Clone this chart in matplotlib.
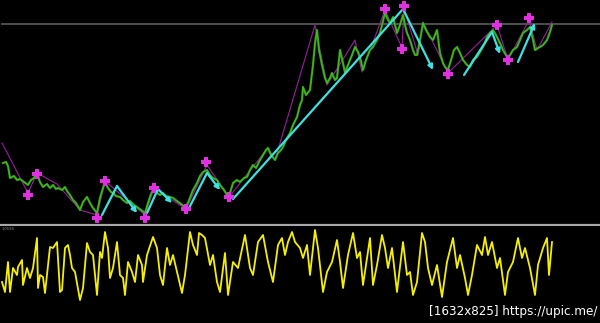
import matplotlib
matplotlib.use("Agg")
import matplotlib.pyplot as plt

# ---------------- data (bar index, level) ----------------
price_bar = [3, 6, 8, 10, 14, 17, 20, 24, 28, 31, 34, 37, 40, 43, 47, 50, 53, 56, 58, 62, 65, 67, 70, 73, 76, 80,
             83, 87, 90, 93, 97, 100, 103, 105, 108, 111, 113, 116, 120, 123, 127, 130, 134, 137, 141, 145, 148,
             151, 153, 156, 160, 163, 166, 170, 173, 177, 181, 185, 188, 191, 193, 197, 200, 203, 207, 210, 213,
             217, 220, 224, 227, 230, 233, 237, 240, 244, 247, 250, 253, 256, 260, 263, 266, 268, 271, 275, 278,
             281, 283, 286, 290, 293, 297, 300, 302, 303, 306, 310, 313, 315, 317, 319, 322, 325, 327, 330, 332,
             335, 337, 340, 343, 345, 348, 352, 355, 358, 360, 363, 366, 370, 373, 377, 380, 382, 385, 388, 390,
             393, 397, 400, 403, 405, 407, 410, 413, 415, 417, 420, 423, 426, 430, 433, 437, 440, 443, 445, 448,
             451, 454, 457, 460, 463, 467, 470, 473, 477, 480, 484, 487, 490, 493, 496, 500, 503, 507, 510, 513,
             517, 520, 523, 527, 530, 533, 535, 538, 540, 543, 547, 550, 552]
price_px = [163, 162, 166, 178, 176, 180, 179, 182, 185, 180, 178, 173, 182, 187, 184, 188, 185, 189, 188, 190, 187,
            191, 195, 200, 203, 210, 202, 197, 203, 208, 213, 198, 188, 182, 188, 192, 193, 196, 197, 200, 203, 201,
            205, 207, 210, 213, 203, 194, 190, 192, 195, 193, 196, 197, 198, 201, 204, 207, 203, 195, 190, 183, 176,
            172, 170, 175, 178, 180, 185, 190, 195, 193, 183, 180, 182, 178, 177, 170, 165, 168, 160, 155, 150, 148,
            155, 160, 153, 150, 147, 140, 133, 125, 117, 105, 100, 87, 95, 90, 65, 43, 30, 50, 65, 78, 83, 78, 73,
            80, 78, 50, 63, 73, 65, 55, 47, 52, 57, 70, 60, 50, 47, 40, 33, 25, 13, 20, 23, 17, 33, 25, 15, 25, 33,
            40, 50, 55, 55, 40, 23, 30, 37, 40, 30, 53, 63, 67, 70, 60, 50, 47, 53, 60, 65, 67, 60, 57, 52, 45, 37,
            33, 30, 35, 43, 50, 57, 55, 50, 47, 40, 33, 30, 27, 40, 50, 48, 47, 45, 40, 32, 25]
price = [225 - p for p in price_px]

zig_bar = [2, 28, 37, 57, 80, 97, 105, 145, 154, 186, 207, 229, 268, 275, 315, 327, 355, 362, 385, 402, 404, 418,
           423, 448, 497, 508, 529, 537, 552]
zig_px = [143, 193, 173, 184, 210, 215, 181, 215, 188, 209, 165, 197, 148, 160, 25, 85, 40, 72, 10, 48, 8, 55, 22,
          73, 25, 60, 20, 50, 22]
zigzag = [225 - p for p in zig_px]

mark_bar = [28, 37, 97, 105, 145, 154, 186, 206, 229, 385, 404, 402, 448, 497, 508, 529]
mark_px = [195, 174, 218, 181, 218, 188, 209, 162, 197, 9, 6, 49, 74, 25, 60, 18]
marks = [225 - p for p in mark_px]

# cyan arrow paths (bar, pixel level)
arrow_paths = [
    [(102, 215), (117, 186), (137, 213)],
    [(147, 213), (158, 189), (172, 203)],
    [(188, 210), (207, 173), (220, 190)],
    [(233, 199), (403, 9), (433, 70)],
    [(464, 75), (492, 32), (500, 54)],
    [(518, 62), (535, 23)],
]

resistance = 225 - 24

osc_bar = [2, 5, 8, 10, 13, 17, 18, 22, 23, 27, 30, 33, 37, 38, 40, 43, 45, 50, 53, 57, 60, 62, 65, 68, 70, 72,
           75, 80, 83, 87, 90, 93, 97, 100, 102, 105, 108, 110, 113, 117, 120, 123, 125, 128, 132, 135, 138, 142,
           143, 147, 153, 157, 160, 163, 167, 170, 173, 177, 182, 185, 190, 193, 197, 199, 202, 205, 210, 213, 217,
           220, 225, 228, 233, 238, 245, 250, 253, 258, 263, 268, 273, 278, 282, 285, 288, 292, 295, 300, 303, 307,
           310, 315, 318, 323, 327, 332, 337, 340, 343, 348, 353, 357, 360, 363, 367, 370, 373, 377, 382, 385, 388,
           392, 397, 399, 403, 407, 410, 413, 417, 422, 425, 428, 432, 437, 442, 447, 453, 457, 460, 465, 468, 472,
           477, 482, 485, 488, 492, 497, 500, 505, 508, 513, 518, 522, 525, 530, 535, 538, 543, 547, 549, 552]
osc_px = [282, 292, 262, 292, 268, 275, 267, 260, 285, 268, 278, 268, 238, 288, 275, 277, 293, 247, 248, 242, 292,
          290, 248, 245, 255, 268, 272, 300, 288, 243, 252, 255, 295, 252, 258, 232, 248, 278, 268, 242, 275, 278,
          295, 262, 272, 282, 255, 265, 282, 255, 237, 248, 275, 285, 248, 265, 255, 272, 293, 275, 232, 245, 255,
          233, 235, 238, 265, 255, 282, 292, 253, 295, 262, 268, 235, 268, 275, 242, 235, 262, 282, 245, 238, 255,
          242, 232, 242, 248, 258, 245, 275, 230, 248, 292, 272, 262, 240, 262, 288, 255, 233, 258, 252, 285, 258,
          238, 285, 265, 235, 248, 268, 248, 292, 275, 242, 275, 272, 295, 282, 233, 242, 268, 285, 265, 297, 262,
          238, 268, 255, 278, 295, 275, 245, 255, 237, 255, 242, 268, 258, 295, 272, 262, 238, 258, 248, 268, 295,
          265, 248, 238, 275, 242]
osc = [300 - p for p in osc_px]

level_label = "1.0594"
credit = "[1632x825] https://upic.me/"

# ---------------- figure ----------------
W, H = 600, 323
fig = plt.figure(figsize=(W / 100, H / 100), dpi=100, facecolor="black")

top_h = 226
ax = fig.add_axes([0, 1 - top_h / H, 1, top_h / H], facecolor="black")
ax.set_xlim(0, 600)
ax.set_ylim(225 - top_h, 225)
ax.axis("off")

ax.axhline(resistance, color="#5c5c5c", lw=1.2, xmin=0.004)
ax.axhline(0, color="#a8a8a8", lw=1.6)

ax.plot(zig_bar, zigzag, color="#9a1ea0", lw=0.8, zorder=2)
ax.plot(price_bar, price, color="#2f9a18", lw=1.6, zorder=3)
ax.plot(price_bar, price, color="#48c020", lw=0.6, zorder=3)

for path in arrow_paths:
    pts = [(b, 225 - p) for b, p in path]
    for i in range(len(pts) - 1):
        last = i == len(pts) - 2
        ax.annotate("", xy=pts[i + 1], xytext=pts[i],
                    arrowprops=dict(arrowstyle="-|>" if last else "-", color="#3ee0e0", lw=1.6,
                                    mutation_scale=7, shrinkA=0, shrinkB=0), zorder=4)

ax.plot(mark_bar, marks, linestyle="none", marker="P", markersize=7, color="#e030e0",
        markeredgewidth=0, zorder=5)

bot_top = 226
ax2 = fig.add_axes([0, 0, 1, (H - bot_top) / H], facecolor="black")
ax2.set_xlim(0, 600)
ax2.set_ylim(300 - H, 300 - bot_top)
ax2.axis("off")
ax2.plot(osc_bar, osc, color="#f5f000", lw=1.3)

fig.text(2 / W, 1 - 229 / H, level_label, color="#909090", fontsize=2.6, va="center", ha="left")
fig.text(597 / W, 1 - 312 / H, credit, color="white", fontsize=9.5, ha="right", va="center",
         fontstretch="condensed")

fig.savefig("out.png", dpi=100, facecolor="black")
